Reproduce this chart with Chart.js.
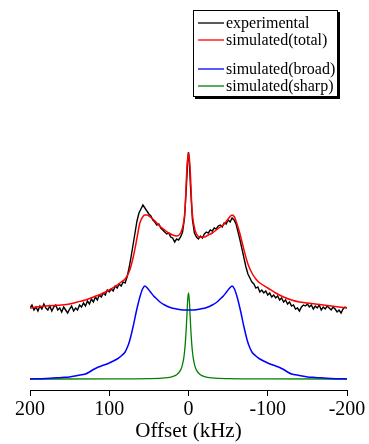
<!DOCTYPE html>
<html>
<head>
<meta charset="utf-8">
<script src="https://cdn.jsdelivr.net/npm/chart.js@4.4.0/dist/chart.umd.min.js"></script>
<style>
  html, body { margin: 0; padding: 0; background: #fff; }
  #wrap { width: 369px; height: 444px; }
</style>
</head>
<body>
<div id="wrap"><canvas id="nmr"></canvas></div>
<script>
// series names / colours (legend has a blank row between total and broad)
const seriesNames = ['experimental', 'simulated(total)', 'simulated(broad)', 'simulated(sharp)'];
const seriesColors = ['#000000', '#ff0000', '#0000ff', '#008000'];
const xTickLabels = [200, 100, 0, -100, -200];

// experimental spectrum (noisy), offset in kHz
const expOffset = [200, 197.5, 195, 192.5, 190, 187.5, 185, 182.5, 180, 177.5, 175, 172.5, 170, 167.5, 165, 162.5,
  160, 157.5, 155, 152.5, 150, 147.5, 145, 142.5, 140, 137.5, 135, 132.5, 130, 127.5, 125, 122.5,
  120, 117.5, 115, 112.5, 110, 107.5, 105, 102.5, 100, 97.5, 95, 92.5, 90, 87.5, 85, 82.5,
  80, 77.5, 75, 72.5, 70, 67.5, 65, 62.5, 60, 57.5, 55, 52.5, 50, 47.5, 45, 42.5,
  40, 37.5, 35, 32.5, 30, 27.5, 25, 22.5, 20, 17.5, 15, 12.5, 10, 7.5, 5, 2.5, 1, 0,
  -1, -2.5, -5, -7.5, -10, -12.5, -15, -17.5, -20, -22.5, -25, -27.5, -30, -32.5, -35, -37.5,
  -40, -42.5, -45, -47.5, -50, -52.5, -55, -57.5, -60, -62.5, -65, -67.5, -70, -72.5, -75, -77.5,
  -80, -82.5, -85, -87.5, -90, -92.5, -95, -97.5, -100, -102.5, -105, -107.5, -110, -112.5, -115, -117.5,
  -120, -122.5, -125, -127.5, -130, -132.5, -135, -137.5, -140, -142.5, -145, -147.5, -150, -152.5, -155, -157.5,
  -160, -162.5, -165, -167.5, -170, -172.5, -175, -177.5, -180, -182.5, -185, -187.5, -190, -192.5, -195, -197.5, -200];
const expIntensity = [82, 85, 80, 83, 79, 84, 81, 86, 82, 80, 84, 79, 83, 85, 80, 82,
  78, 83, 80, 77, 81, 84, 79, 82, 80, 85, 83, 87, 84, 89, 86, 91,
  88, 93, 90, 95, 93, 97, 95, 100, 98, 101, 99, 104, 102, 106, 104, 108,
  107, 113, 122, 133, 145, 157, 169, 177, 181, 185, 182, 179, 176, 174, 170, 168,
  165, 166, 162, 160, 158, 156, 157, 153, 152, 148, 151, 150, 153, 158, 172, 206, 230, 238,
  229, 204, 170, 157, 153, 151, 154, 152, 156, 158, 157, 160, 159, 162, 161, 164,
  165, 163, 167, 166, 170, 168, 172, 170, 166, 158, 150, 141, 132, 123, 116, 112,
  108, 106, 102, 103, 98, 100, 97, 99, 95, 97, 93, 95, 92, 94, 90, 92,
  88, 90, 86, 88, 84, 85, 81, 82, 79, 83, 85, 84, 86, 83, 85, 81,
  84, 82, 85, 80, 83, 81, 84, 82, 80, 83, 81, 78, 80, 77, 81, 83, 82];

// simulated total
const totOffset = [200, 180, 160, 150, 140, 130, 120, 110, 100, 90, 85, 80, 75, 70, 65, 62, 60, 57, 55, 52, 50, 45, 40,
  35, 30, 25, 20, 15, 10, 7, 5, 4, 3, 2, 1, 0, -1, -2, -3, -4, -5, -7, -10, -15, -20, -25, -30, -35, -40,
  -45, -50, -55, -58, -60, -65, -70, -75, -80, -85, -90, -100, -110, -120, -130, -140, -150, -170, -200];
const totIntensity = [82, 84, 85, 86, 88, 90, 93, 96, 100, 105, 108, 111, 118, 132, 152, 165, 170, 174, 175, 175, 174, 171, 167,
  163, 160, 157, 155, 154, 157, 164, 175, 186, 205, 222, 232, 237, 232, 222, 205, 186, 175, 164, 156, 153, 153, 155, 157, 160, 163,
  166, 171, 175, 173, 169, 156, 140, 126, 117, 111, 107, 102, 97, 93, 90, 88, 87, 85, 82];

// simulated broad component
const broadOffset = [200, 180, 160, 150, 140, 130, 125, 120, 115, 110, 100, 90, 85, 80, 76, 74, 70, 66, 63, 61, 58, 55, 52,
  48, 44, 40, 36, 30, 23, 15, 7, 0, -7, -15, -23, -30, -36, -40, -44, -48, -52, -55, -58, -61, -63, -66, -70,
  -74, -76, -80, -85, -90, -100, -110, -115, -120, -125, -130, -140, -150, -160, -180, -200];
const broadIntensity = [11, 11.5, 12.5, 13, 14.5, 16, 18, 20.5, 22.5, 24, 27, 31, 34, 38, 45, 50, 63, 78, 88, 94, 101, 104, 102,
  98, 94, 91, 88, 85, 82.5, 81, 80, 80, 80, 81, 82.5, 85, 88, 91, 94, 98, 102, 104, 101, 94, 88, 78, 63,
  50, 45, 38, 34, 31, 27, 24, 22.5, 20.5, 18, 16, 14.5, 13, 12.5, 11.5, 11];

// simulated sharp component
const sharpOffset = [200, 100, 50, 30, 20, 15, 10, 8, 6, 5, 4, 3, 2, 1, 0, -1, -2, -3, -4, -5, -6, -8, -10, -15, -20, -30, -50, -100, -200];
const sharpIntensity = [11, 11.1, 11.4, 12.1, 13.4, 15.2, 19.9, 24.2, 31.9, 38.2, 47.1, 59.3, 74.9, 90.2, 97,
  90.2, 74.9, 59.3, 47.1, 38.2, 31.9, 24.2, 19.9, 15.2, 13.4, 12.1, 11.4, 11.1, 11];

const toPoints = (xs, ys) => xs.map((x, i) => ({ x: x, y: ys[i] }));
const FONT = 'Liberation Serif, Times New Roman, serif';

const minorTicks = {
  id: 'minorTicks',
  afterDraw(chart) {
    const s = chart.scales.x;
    const ctx = chart.ctx;
    ctx.save();
    ctx.strokeStyle = '#000';
    ctx.lineWidth = 1;
    s.ticks.forEach(t => {
      if (t.value % 100 !== 0) {
        const px = Math.round(s.getPixelForValue(t.value)) + 0.5;
        ctx.beginPath();
        ctx.moveTo(px, s.top);
        ctx.lineTo(px, s.top + 3.5);
        ctx.stroke();
      }
    });
    ctx.restore();
  }
};

// boxed legend with drop shadow, blank row after 'simulated(total)'
const legendBox = {
  id: 'legendBox',
  afterDraw(chart) {
    const ctx = chart.ctx;
    const l = 193, t = 10, r = 337, b = 96;
    const rowsY = [23, 40, 69, 86];
    ctx.save();
    ctx.fillStyle = '#000';
    ctx.fillRect(l + 2, t + 2, r - l + 1, b - t + 1);
    ctx.fillStyle = '#fff';
    ctx.fillRect(l, t, r - l, b - t);
    ctx.strokeStyle = '#000';
    ctx.lineWidth = 1;
    ctx.strokeRect(l + 0.5, t + 0.5, r - l, b - t);
    ctx.font = '16px ' + FONT;
    ctx.textBaseline = 'middle';
    seriesNames.forEach((name, i) => {
      const y = rowsY[i];
      ctx.strokeStyle = seriesColors[i];
      ctx.lineWidth = 1.3;
      ctx.beginPath();
      ctx.moveTo(198, y);
      ctx.lineTo(224, y);
      ctx.stroke();
      ctx.fillStyle = '#000';
      ctx.fillText(name, 226, y + 1);
    });
    ctx.restore();
  }
};

const lineSet = (label, pts, color, width, order, smooth) => ({
  label: label,
  data: pts,
  borderColor: color,
  backgroundColor: color,
  borderWidth: width,
  pointRadius: 0,
  fill: false,
  tension: 0,
  cubicInterpolationMode: smooth ? 'monotone' : 'default',
  order: order
});

new Chart(document.getElementById('nmr'), {
  type: 'line',
  data: {
    datasets: [
      lineSet(seriesNames[0], toPoints(expOffset, expIntensity), seriesColors[0], 1.4, 2, false),
      lineSet(seriesNames[1], toPoints(totOffset, totIntensity), seriesColors[1], 1.5, 1, true),
      lineSet(seriesNames[2], toPoints(broadOffset, broadIntensity), seriesColors[2], 1.5, 0, true),
      lineSet(seriesNames[3], toPoints(sharpOffset, sharpIntensity), seriesColors[3], 1.3, 0, true)
    ]
  },
  options: {
    responsive: true,
    maintainAspectRatio: false,
    animation: false,
    devicePixelRatio: 1,
    layout: { padding: { left: 30, right: 22, top: 150, bottom: 0 } },
    plugins: {
      legend: { display: false },
      tooltip: { enabled: false }
    },
    scales: {
      x: {
        type: 'linear',
        reverse: true,
        min: -200,
        max: 200,
        afterFit: (s) => { s.height = 54; },
        border: { display: true, color: '#000', width: 1 },
        grid: {
          drawOnChartArea: false,
          drawTicks: true,
          tickLength: 6,
          color: (c) => (c.tick && xTickLabels.includes(c.tick.value)) ? '#000' : 'rgba(0,0,0,0)'
        },
        ticks: {
          stepSize: 50,
          padding: 2,
          maxRotation: 0,
          color: '#000',
          font: { family: FONT, size: 20 },
          callback: (v) => xTickLabels.includes(v) ? String(v) : ''
        },
        title: {
          display: true,
          text: 'Offset (kHz)',
          color: '#000',
          font: { family: FONT, size: 21 },
          padding: { top: 0, bottom: 0 }
        }
      },
      y: {
        display: false,
        min: 0,
        max: 240
      }
    }
  },
  plugins: [minorTicks, legendBox]
});
</script>
</body>
</html>
